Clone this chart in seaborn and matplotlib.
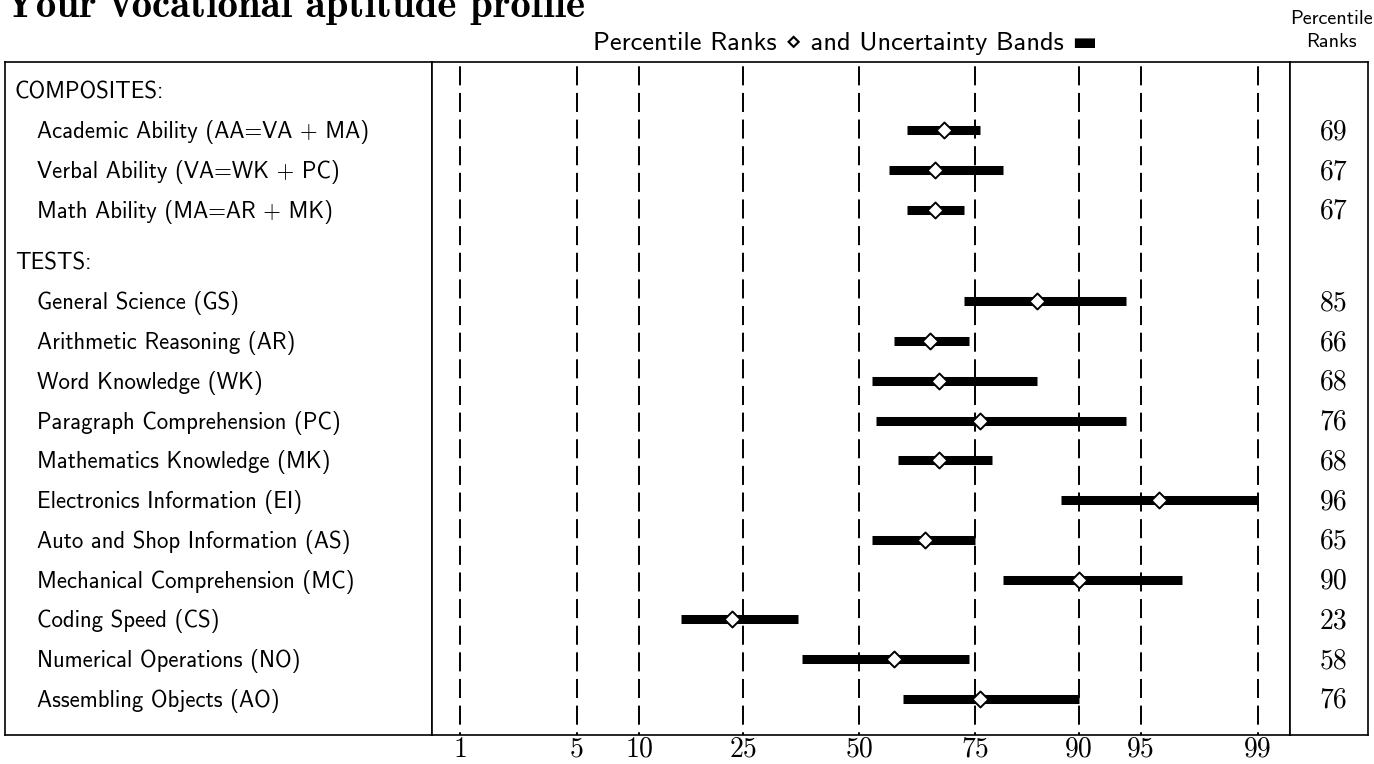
import numpy as np
import pandas as pd
import matplotlib
matplotlib.use("Agg")
import matplotlib.pyplot as plt
import matplotlib.transforms as mtrans
import seaborn as sns
from statistics import NormalDist

# ---------------- data ----------------
title_text = "Your vocational aptitude profile"
header_text = "Percentile Ranks \u22c4 and Uncertainty Bands \u25ac"
section_titles = ["COMPOSITES:", "TESTS:"]

composite_names = ["Academic Ability (AA=VA + MA)",
                   "Verbal Ability (VA=WK + PC)",
                   "Math Ability (MA=AR + MK)"]
composite_rank = [69, 67, 67]
composite_low = [61, 57, 61]
composite_high = [76, 80, 73]

test_names = ["General Science (GS)",
              "Arithmetic Reasoning (AR)",
              "Word Knowledge (WK)",
              "Paragraph Comprehension (PC)",
              "Mathematics Knowledge (MK)",
              "Electronics Information (EI)",
              "Auto and Shop Information (AS)",
              "Mechanical Comprehension (MC)",
              "Coding Speed (CS)",
              "Numerical Operations (NO)",
              "Assembling Objects (AO)"]
test_rank = [85, 66, 68, 76, 68, 96, 65, 90, 23, 58, 76]
test_low = [73, 58, 53, 54, 59, 88, 53, 80, 15, 37, 60]
test_high = [94, 74, 85, 94, 78, 99, 75, 97, 36, 74, 90]

percentile_ticks = [1, 5, 10, 25, 50, 75, 90, 95, 99]

# ---------------- style ----------------
sns.set_theme(style="white")
plt.rcParams["font.family"] = ["cmss10", "DejaVu Sans"]
plt.rcParams["axes.unicode_minus"] = False
plt.rcParams["axes.edgecolor"] = "black"
plt.rcParams["axes.linewidth"] = 1.2

W, H = 1374, 764
fig = plt.figure(figsize=(W / 100, H / 100), dpi=100)


def fx(px):
    return px / W


def fy(py):
    return 1 - py / H


top_px, bot_px = 62, 735
x_left, x_sep1, x_sep2, x_right = 5, 432, 1290, 1368
ax_h = fy(top_px) - fy(bot_px)
axL = fig.add_axes([fx(x_left), fy(bot_px), fx(x_sep1) - fx(x_left), ax_h])
axM = fig.add_axes([fx(x_sep1), fy(bot_px), fx(x_sep2) - fx(x_sep1), ax_h], sharey=axL)
axR = fig.add_axes([fx(x_sep2), fy(bot_px), fx(x_right) - fx(x_sep2), ax_h], sharey=axL)

# normal-quantile scale for percentiles
_nd = NormalDist()
_fwd_v = np.vectorize(lambda v: _nd.inv_cdf(v / 100.0), otypes=[float])
_inv_v = np.vectorize(lambda v: 100.0 * _nd.cdf(v), otypes=[float])


def p_to_z(p):
    p = np.clip(np.asarray(p, dtype=float), 1e-7, 100 - 1e-7)
    return _fwd_v(p)


def z_to_p(z):
    return _inv_v(np.asarray(z, dtype=float))


axM.set_xscale("function", functions=(p_to_z, z_to_p))

# row layout
n_c = len(composite_names)
comp_y = np.arange(1, n_c + 1, dtype=float)
tests_head_y = n_c + 1.3
test_y = tests_head_y + 1 + np.arange(len(test_names), dtype=float)
y_top, y_bot = -0.723, test_y[-1] + 0.91

df = pd.DataFrame({
    "name": composite_names + test_names,
    "rank": composite_rank + test_rank,
    "low": composite_low + test_low,
    "high": composite_high + test_high,
    "y": np.concatenate([comp_y, test_y]),
})

# dashed reference lines
axM.vlines(percentile_ticks, y_top, y_bot, colors="black", lw=1.4,
           linestyles=[(11.5, (9.8, 3.9))], zorder=1)

# uncertainty bands
axM.hlines(df["y"], df["low"], df["high"], colors="black", lw=6.5,
           capstyle="butt", zorder=2)

# percentile rank diamonds
sns.scatterplot(data=df, x="rank", y="y", marker="D", s=66, color="white",
                edgecolor="black", linewidth=1.4, ax=axM, zorder=3, legend=False)

axM.set_xlim(0.639, 99.40)
axL.set_ylim(y_bot, y_top)
axM.set_xticks(percentile_ticks)
axM.set_xticklabels([str(t) for t in percentile_ticks], fontfamily="cmr10", fontsize=20)
axM.tick_params(axis="x", length=0, pad=1, colors="black")
axM.tick_params(axis="y", left=False, labelleft=False)
axM.set_xlabel("")
axM.set_ylabel("")

for ax in (axL, axR):
    ax.set_xticks([])
    ax.tick_params(axis="y", left=False, labelleft=False)
    ax.set_xlim(0, 1)

# left labels
lab_tr = mtrans.offset_copy(mtrans.blended_transform_factory(axL.transAxes, axL.transData),
                            fig=fig, x=0, y=-8, units="dots")
for txt, yy in zip(section_titles, [0.0, tests_head_y]):
    axL.text(0.0234, yy, txt, transform=lab_tr, fontsize=16.4, va="baseline", ha="left",
             color="black")
for txt, yy in zip(df["name"], df["y"]):
    axL.text(0.075, yy, txt, transform=lab_tr, fontsize=16.4, va="baseline", ha="left",
             color="black")

# right rank numbers
num_tr = mtrans.offset_copy(mtrans.blended_transform_factory(axR.transAxes, axR.transData),
                            fig=fig, x=0, y=-9, units="dots")
for r, yy in zip(df["rank"], df["y"]):
    axR.text(0.56, yy, str(r), transform=num_tr, fontsize=20, fontfamily="cmr10",
             va="baseline", ha="center", color="black")

# header texts
fig.text(fx(5), fy(17), title_text, fontfamily="cmb10", fontsize=29.5, va="baseline",
         ha="left", color="black")
fig.text(fx(845), fy(50), header_text, fontsize=19, va="baseline", ha="center",
         color="black")
fig.text(fx(1331), fy(24), "Percentile", fontsize=14.5, va="baseline", ha="center",
         color="black")
fig.text(fx(1331), fy(47), "Ranks", fontsize=14.5, va="baseline", ha="center",
         color="black")

fig.savefig("out.png", dpi=100)
